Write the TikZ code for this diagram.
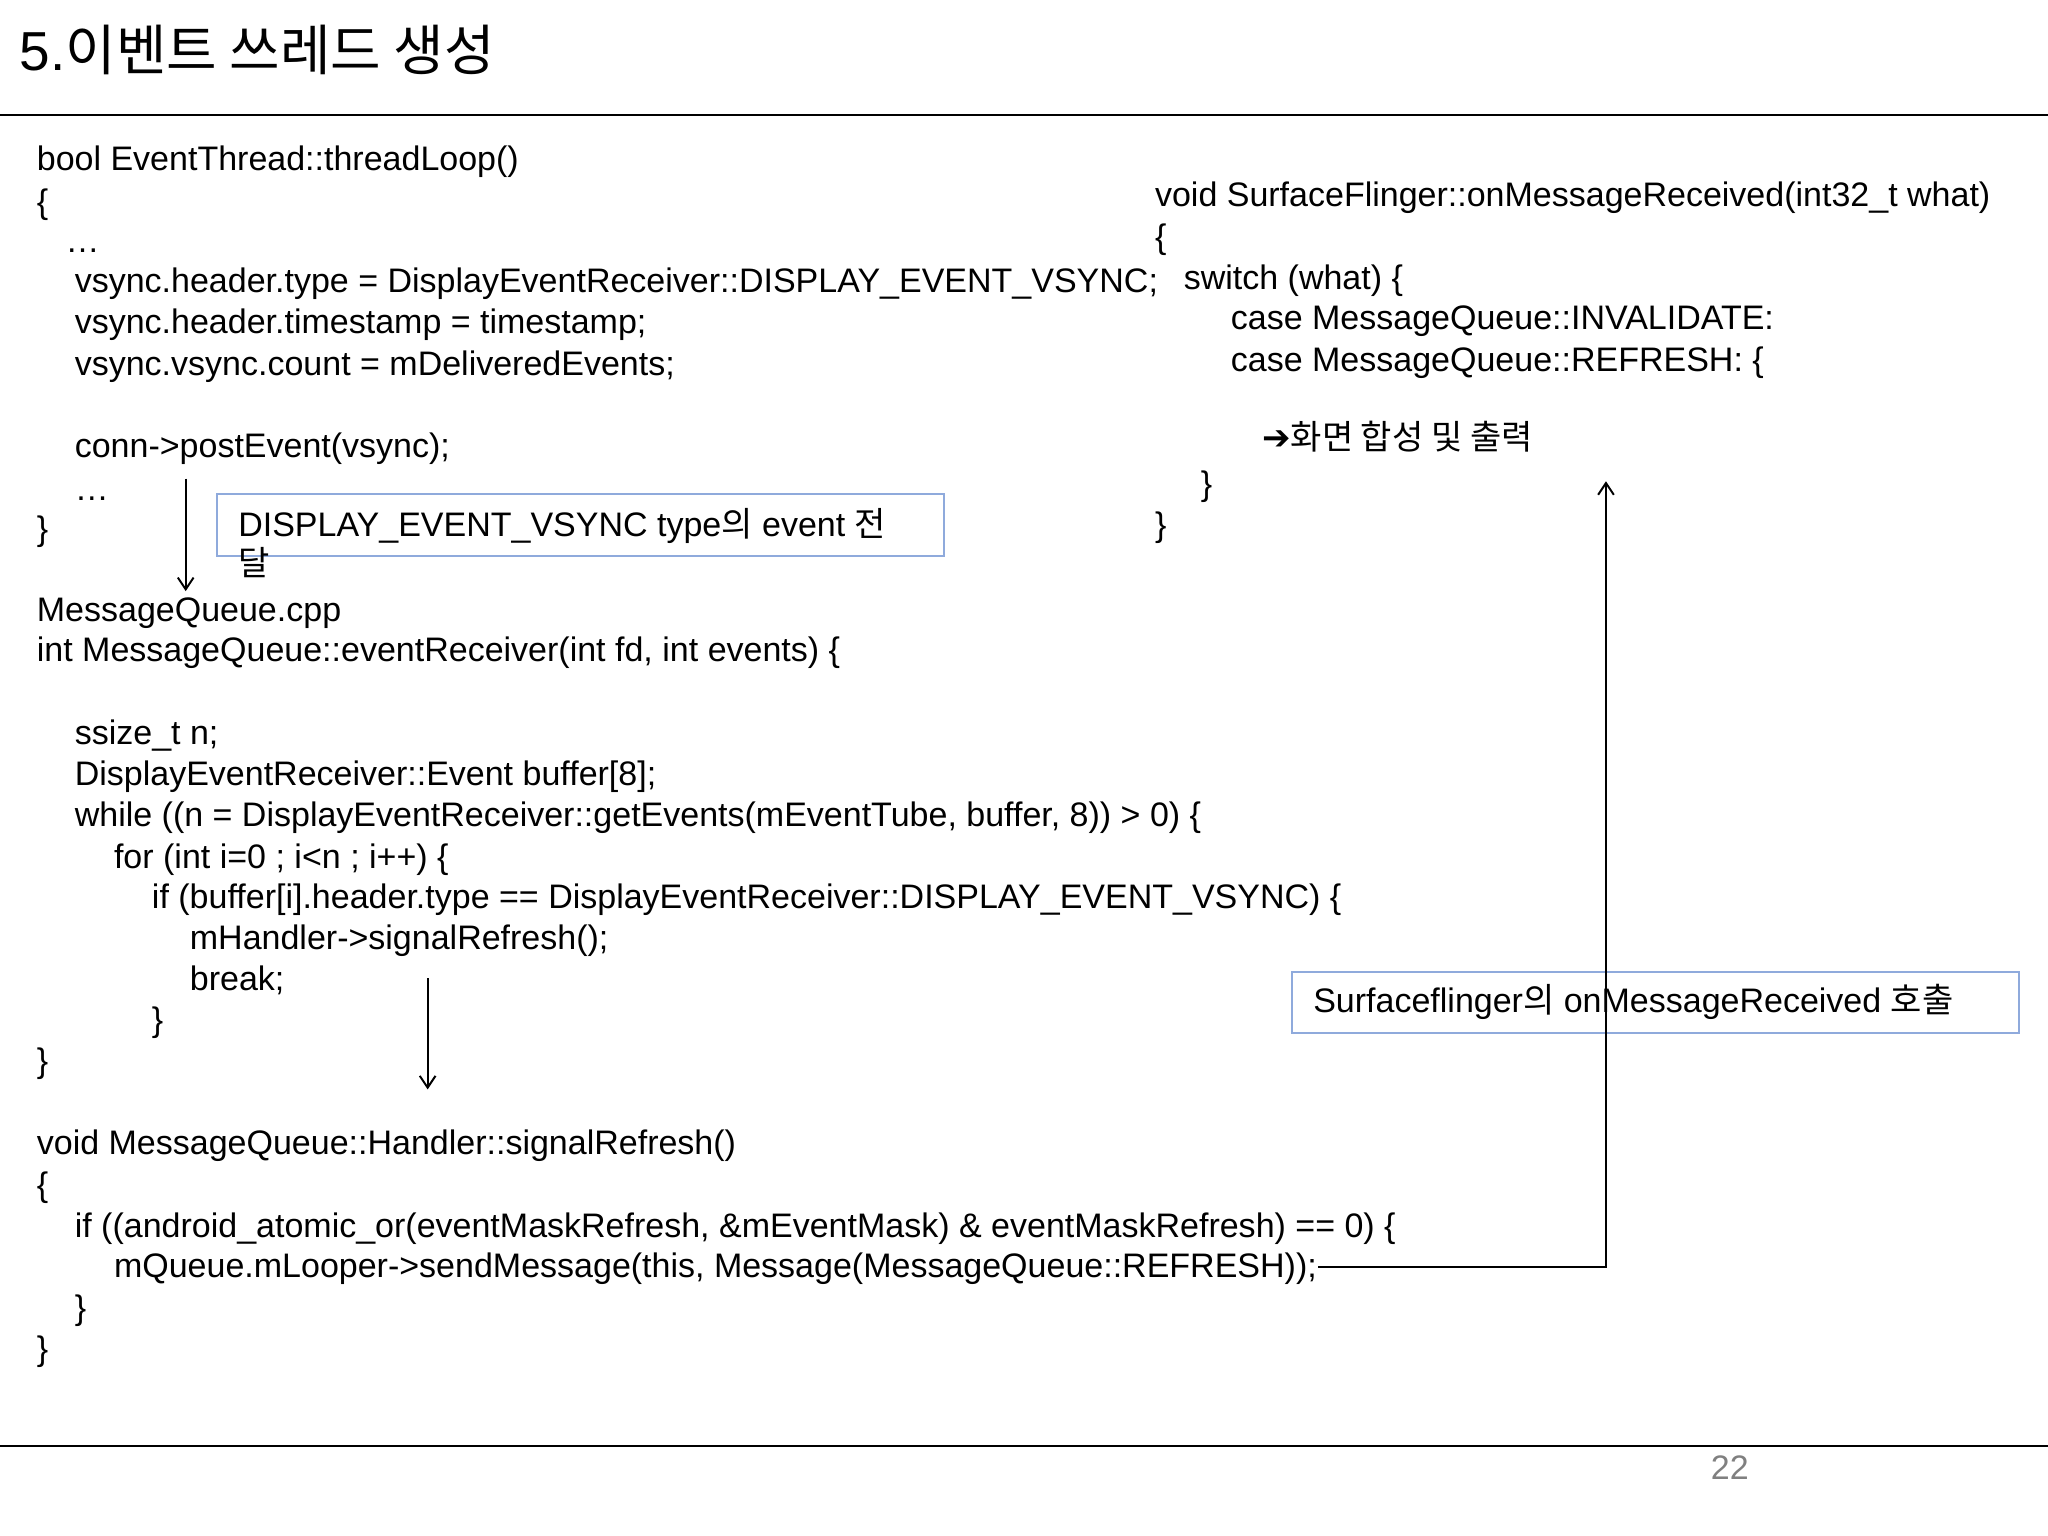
\documentclass[tikz,border=0pt]{standalone}
\usepackage{fontspec}
\setmainfont{Liberation Sans}
\newfontfamily\kr{Noto Sans CJK KR}
\newfontfamily\dv{DejaVu Sans}
\usetikzlibrary{arrows.meta}
\tikzset{
  t/.style={anchor=base west,inner sep=0pt,font=\fontsize{26}{30}\selectfont},
  bx/.style={draw={rgb,255:red,143;green,170;blue,220},line width=1.5pt},
  ar/.style={line width=1.5pt,-{Straight Barb[length=9pt,width=12pt]}}
}
\begin{document}
\begin{tikzpicture}[x=1pt,y=-1pt]
\useasboundingbox (0,0) rectangle (1566,1174);
\fill[white] (0,0) rectangle (1566,1174);
\node[t,font=\fontsize{42}{46}\selectfont] (title) at (15,54) {5.{\kr 이벤트 쓰레드 생성}};
\draw[line width=2pt] (0,88) -- (1566,88);
\draw[line width=1.5pt] (0,1106) -- (1566,1106);
\node[t,text=gray] (pg) at (1308,1131) {22};
% left code
\node[t] (l1) at (28,130) {bool EventThread::threadLoop()};
\node[t] (l2) at (28,163) {\{};
\node[t] (l3) at (50,193) {\dots};
\node[t] (l4) at (57,224) {vsync.header.type = DisplayEventReceiver::DISPLAY\_EVENT\_VSYNC;};
\node[t] (l5) at (57,255) {vsync.header.timestamp = timestamp;};
\node[t] (l6) at (57,287) {vsync.vsync.count = mDeliveredEvents;};
\node[t] (l7) at (57,350) {conn->postEvent(vsync);};
\node[t] (l8) at (57,383) {\dots};
\node[t] (l9) at (28,413) {\}};
% right code
\node[t] (r1) at (883,158) {void SurfaceFlinger::onMessageReceived(int32\_t what)};
\node[t] (r2) at (883,190) {\{};
\node[t] (r3) at (905,221) {switch (what) \{};
\node[t] (r4) at (941,252) {case MessageQueue::INVALIDATE:};
\node[t] (r5) at (941,284) {case MessageQueue::REFRESH: \{};
\node[t] (r6) at (965,344) {{\dv ➔}{\kr 화면 합성 및 출력}};
\coordinate (tgt) at (1228,368);
\node[t] (r7) at (918,379) {\}};
\node[t] (r8) at (883,410) {\}};
% box1
\draw[bx] (166,378) rectangle (722,425);
\node[t] (b1) at (182,410) {DISPLAY\_EVENT\_VSYNC type{\kr 의} event {\kr 전}};
\node[t] (b1b) at (182,440) {\kr 달};
\coordinate (a1s) at (142,366);
\coordinate (a1e) at (142,452);
\draw[ar] (a1s) -- (a1e);
% message queue
\node[t] (m1) at (28,475) {MessageQueue.cpp};
\node[t] (m2) at (28,506) {int MessageQueue::eventReceiver(int fd, int events) \{};
\node[t] (m3) at (57,569) {ssize\_t n;};
\node[t] (m4) at (57,601) {DisplayEventReceiver::Event buffer[8];};
\node[t] (m5) at (57,632) {while ((n = DisplayEventReceiver::getEvents(mEventTube, buffer, 8)) > 0) \{};
\node[t] (m6) at (87,664) {for (int i=0 ; i<n ; i++) \{};
\node[t] (m7) at (116,695) {if (buffer[i].header.type == DisplayEventReceiver::DISPLAY\_EVENT\_VSYNC) \{};
\node[t] (m8) at (145,726) {mHandler->signalRefresh();};
\node[t] (m9) at (145,757) {break;};
\node[t] (m10) at (116,789) {\}};
\node[t] (m11) at (28,820) {\}};
\coordinate (a2s) at (327,748);
\coordinate (a2e) at (327,833);
\draw[ar] (a2s) -- (a2e);
% handler
\node[t] (h1) at (28,883) {void MessageQueue::Handler::signalRefresh()};
\node[t] (h2) at (28,915) {\{};
\node[t] (h3) at (57,946) {if ((android\_atomic\_or(eventMaskRefresh, \&mEventMask) \& eventMaskRefresh) == 0) \{};
\node[t] (h4) at (87,977) {mQueue.mLooper->sendMessage(this, Message(MessageQueue::REFRESH));};
\node[t] (h5) at (57,1009) {\}};
\node[t] (h6) at (28,1040) {\}};
% box2
\draw[bx] (988,743) rectangle (1544,790);
\node[t] (b2) at (1004,774) {Surfaceflinger{\kr 의} onMessageReceived {\kr 호출}};
\coordinate (src) at (1008,969);
\draw[ar] (src) -- (1228,969) -- (tgt);
\end{tikzpicture}
\end{document}
